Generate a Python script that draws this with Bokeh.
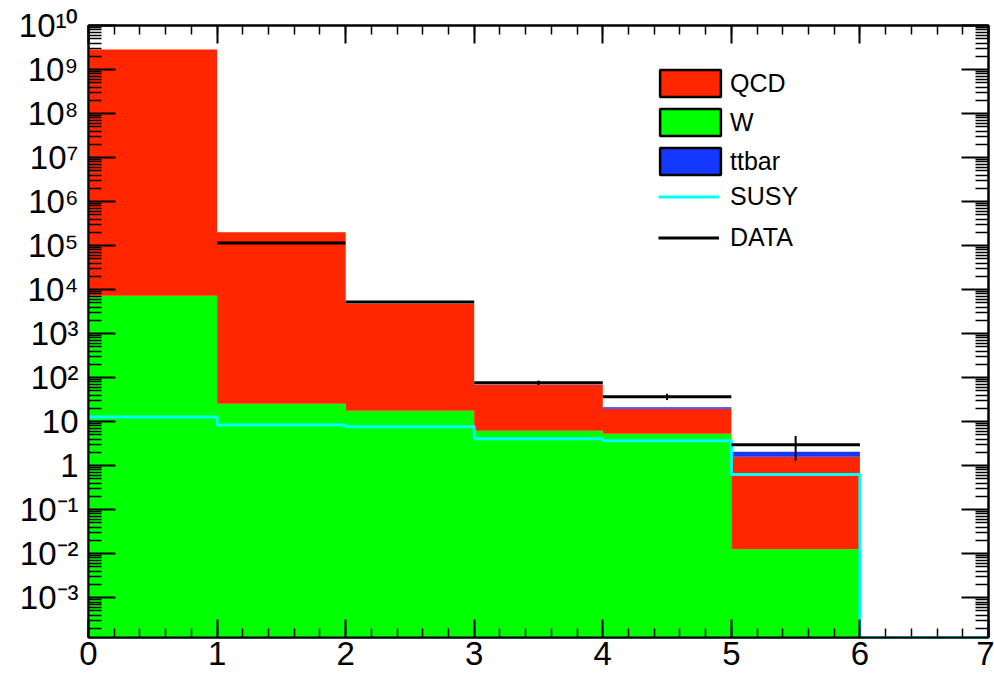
import numpy as np
from bokeh.plotting import figure
from bokeh.models import (LogAxis, LinearAxis, FixedTicker, SingleIntervalTicker,
                          Legend, LegendItem, ColumnDataSource, Range1d, CustomJSTickFormatter)
from bokeh.embed import file_html
from bokeh.resources import INLINE

# ---------------- data ----------------
bin_edges = [0, 1, 2, 3, 4, 5, 6, 7]
w_vals = [7300, 25.7, 17.8, 6.2, 5.3, 0.0126, 0]
qcd_vals = [2.85e9, 2.0e5, 4770, 63, 14.4, 1.59, 0]
ttbar_vals = [40, 15, 6, 1.0, 1.6, 0.48, 0]
susy_vals = [12.8, 8.4, 7.7, 4.1, 3.7, 0.63, 0]
data_vals = [0, 115000, 5250, 77, 37, 3, 0]
data_errs = [0, 340, 72, 8.8, 6.1, 1.7, 0]

x_tick_labels = ["0", "1", "2", "3", "4", "5", "6", "7"]
y_tick_values = [1e-3, 1e-2, 1e-1, 1, 10, 1e2, 1e3, 1e4, 1e5, 1e6, 1e7, 1e8, 1e9, 1e10]
y_tick_labels = ["10\u207b\u00b3", "10\u207b\u00b2", "10\u207b\u00b9", "1", "10",
                 "10\u00b2", "10\u00b3", "10\u2074", "10\u2075", "10\u2076",
                 "10\u2077", "10\u2078", "10\u2079", "10\u00b9\u2070"]

series_names = ["QCD", "W", "ttbar", "SUSY", "DATA"]

Y_MIN, Y_MAX = 1.25e-4, 1e10
FONT = "Liberation Sans"
RED, GREEN, BLUE, CYAN = "#ff2600", "#00ff00", "#1438ff", "#00ffff"

# ---------------- derived quantities ----------------
edges = np.array(bin_edges, dtype=float)
left, right = edges[:-1], edges[1:]
centers = 0.5 * (left + right)
w = np.array(w_vals)
qcd = np.array(qcd_vals)
tt = np.array(ttbar_vals)
s1 = np.maximum(w, Y_MIN)
s2 = np.maximum(w + qcd, Y_MIN)
s3 = np.maximum(w + qcd + tt, Y_MIN)
base = np.full_like(s1, Y_MIN)


def ext(a):
    # step "after": repeat last bin value at the final edge
    return np.append(a, a[-1])


p = figure(width=994, height=673, x_range=Range1d(0, 7), y_range=Range1d(Y_MIN, Y_MAX),
           y_axis_type="log", output_backend="svg", toolbar_location=None,
           min_border_left=88, min_border_right=6, min_border_top=25, min_border_bottom=36,
           background_fill_color="white", border_fill_color="white")
p.xgrid.visible = False
p.ygrid.visible = False
p.outline_line_color = "black"
p.outline_line_width = 2

# stacked histogram layers (W at bottom, QCD, then ttbar)
p.varea_step(x=edges, y1=ext(base), y2=ext(s1), step_mode="after", fill_color=GREEN)
p.varea_step(x=edges, y1=ext(s1), y2=ext(s2), step_mode="after", fill_color=RED)
p.varea_step(x=edges, y1=ext(s2), y2=ext(s3), step_mode="after", fill_color=BLUE)

# SUSY step line
sx, sy = [], []
for i in range(len(susy_vals)):
    v = max(susy_vals[i], Y_MIN)
    sx += [left[i], right[i]]
    sy += [v, v]
r_susy = p.line(sx, sy, line_color=CYAN, line_width=3)

# DATA
d = np.array(data_vals, dtype=float)
e = np.array(data_errs, dtype=float)
m = d > 0
r_data = p.segment(x0=left[m], x1=right[m], y0=d[m], y1=d[m], line_color="black", line_width=3)
p.segment(x0=centers[m], x1=centers[m], y0=d[m] - e[m], y1=d[m] + e[m],
          line_color="black", line_width=2)

# legend proxies (boxes with black outline), hidden in the plot itself
src_proxy = ColumnDataSource(dict(l=left, r=right, b=s1, t=s2))
r_leg_qcd = p.quad(left="l", right="r", bottom="b", top="t", source=src_proxy,
                   fill_color=RED, line_color="black", line_width=2.5, visible=False)
r_leg_w = p.quad(left="l", right="r", bottom="b", top="t", source=src_proxy,
                 fill_color=GREEN, line_color="black", line_width=2.5, visible=False)
r_leg_tt = p.quad(left="l", right="r", bottom="b", top="t", source=src_proxy,
                  fill_color=BLUE, line_color="black", line_width=2.5, visible=False)

common = dict(orientation="vertical", border_line_alpha=0, background_fill_alpha=0,
              inactive_fill_alpha=0, padding=0, margin=0,
              label_text_font_size="25px", label_text_font=FONT, label_text_color="black")

legend_boxes = Legend(items=[LegendItem(label=series_names[0], renderers=[r_leg_qcd]),
                             LegendItem(label=series_names[1], renderers=[r_leg_w]),
                             LegendItem(label=series_names[2], renderers=[r_leg_tt])],
                      location=(564, 459), spacing=5, glyph_width=76, glyph_height=34,
                      label_standoff=2, **common)
legend_lines = Legend(items=[LegendItem(label=series_names[3], renderers=[r_susy]),
                             LegendItem(label=series_names[4], renderers=[r_data])],
                      location=(570, 385), spacing=12, glyph_width=61, glyph_height=27,
                      label_standoff=11, **common)
p.add_layout(legend_boxes)
p.add_layout(legend_lines)

# ---------------- axes ----------------
minor_y = [mm * 10.0 ** k for k in range(-4, 10) for mm in range(2, 10) if Y_MIN <= mm * 10.0 ** k <= Y_MAX]
yfmt = CustomJSTickFormatter(args=dict(labs=y_tick_labels), code="""
    const i = Math.round(Math.log10(tick)) + 3;
    return (i >= 0 && i < labs.length) ? labs[i] : "";
""")
xfmt = CustomJSTickFormatter(args=dict(labs=x_tick_labels), code="""
    const i = Math.round(tick);
    return (i >= 0 && i < labs.length) ? labs[i] : "";
""")
blank = CustomJSTickFormatter(code="return '';")


def style(ax, major_in, minor_in, show_labels, standoff):
    ax.axis_line_width = 2
    ax.axis_line_color = "black"
    ax.major_tick_in = major_in
    ax.major_tick_out = 0
    ax.minor_tick_in = minor_in
    ax.minor_tick_out = 0
    ax.major_tick_line_width = 2
    ax.minor_tick_line_width = 1.5
    ax.major_tick_line_color = "black"
    ax.minor_tick_line_color = "black"
    ax.major_label_standoff = standoff
    ax.major_label_text_font = FONT
    ax.major_label_text_font_size = "33px"
    ax.major_label_text_color = "black"
    if not show_labels:
        ax.formatter = blank


xa = p.xaxis[0]
xa.ticker = SingleIntervalTicker(interval=1, num_minor_ticks=5)
xa.formatter = xfmt
style(xa, 18, 9, True, 4)

ya = p.yaxis[0]
ya.ticker = FixedTicker(ticks=y_tick_values, minor_ticks=minor_y)
ya.formatter = yfmt
style(ya, 27, 13, True, 10)

top_ax = LinearAxis(ticker=SingleIntervalTicker(interval=1, num_minor_ticks=5))
style(top_ax, 18, 9, False, 0)
p.add_layout(top_ax, "above")

right_ax = LogAxis(ticker=FixedTicker(ticks=y_tick_values, minor_ticks=minor_y))
style(right_ax, 27, 13, False, 0)
p.add_layout(right_ax, "right")

open("out.html", "w").write(file_html(p, INLINE))
